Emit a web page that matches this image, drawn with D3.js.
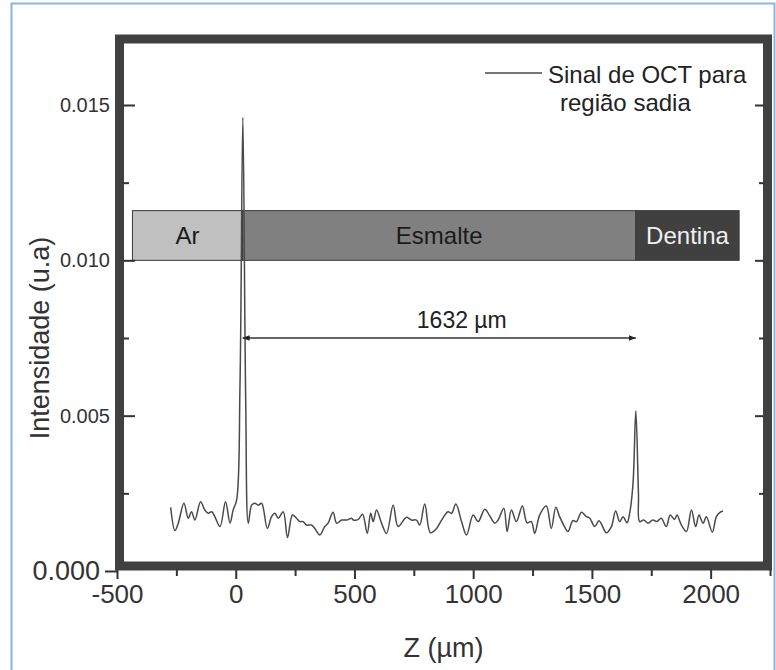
<!DOCTYPE html>
<html>
<head>
<meta charset="utf-8">
<script src="https://cdn.jsdelivr.net/npm/d3@7"></script>
<style>
  body { margin: 0; background: #fff; }
  svg { display: block; font-family: "Liberation Sans", Arial, sans-serif; }
</style>
</head>
<body>
<div class="chart"></div>
<script>
// perfil A-scan do OCT (região sadia)
const zPos = [-274, -256, -242, -218, -200, -186, -172, -148, -130, -116, -101, -88, -66, -43, -24, -11, 4, 18, 30, 42, 53,
  67, 81, 95, 109, 133, 151, 165, 179, 200, 218, 239, 256, 270, 284, 298, 319, 333, 354, 375, 389, 410, 425, 446, 467, 488,
  495, 516, 534, 554, 568, 579, 593, 614, 635, 663, 684, 719, 740, 761, 775, 796, 820, 846, 867, 894, 909, 927, 951, 972,
  1000, 1021, 1049, 1070, 1091, 1105, 1129, 1143, 1161, 1182, 1207, 1227, 1245, 1259, 1280, 1308, 1329, 1348, 1364, 1381,
  1399, 1420, 1435, 1456, 1477, 1491, 1512, 1530, 1561, 1582, 1600, 1617, 1631, 1648, 1659, 1673, 1685, 1696, 1701, 1718,
  1736, 1757, 1774, 1792, 1813, 1830, 1848, 1858, 1877, 1898, 1919, 1937, 1951, 1968, 1982, 2007, 2024, 2038, 2052]
const signal = [0.00205, 0.00130, 0.00154, 0.00218, 0.00170, 0.00191, 0.00164, 0.00223, 0.00196, 0.00186, 0.00191, 0.00175,
  0.00143, 0.00223, 0.00154, 0.00196, 0.00229, 0.0060, 0.0146, 0.0055, 0.00154,
  0.00212, 0.00218, 0.00212, 0.00218, 0.00137, 0.00175, 0.00186, 0.00170, 0.00191, 0.00108, 0.00180, 0.00170, 0.00159,
  0.00159, 0.00148, 0.00148, 0.00137, 0.00116, 0.00143, 0.00154, 0.00189, 0.00154, 0.00164, 0.00164, 0.00170,
  0.00164, 0.00166, 0.00183, 0.00121, 0.00186, 0.00159, 0.00196, 0.00154, 0.00121, 0.00212, 0.00143, 0.00173, 0.00164,
  0.00164, 0.00148, 0.00216, 0.00123, 0.00137, 0.00164, 0.00191, 0.00186, 0.00216, 0.00159, 0.00116,
  0.00180, 0.00159, 0.00199, 0.00177, 0.00154, 0.00164, 0.00202, 0.00127, 0.00196, 0.00159, 0.00209, 0.00155, 0.00159,
  0.00121, 0.00180, 0.00209, 0.00137, 0.00205, 0.00175, 0.00148,
  0.00127, 0.00162, 0.00159, 0.00189, 0.00175, 0.00170, 0.00143, 0.00162, 0.00123, 0.00143, 0.00193, 0.00159, 0.00175,
  0.00155, 0.00186, 0.0028, 0.00516, 0.0025, 0.00159, 0.00164,
  0.00154, 0.00164, 0.00159, 0.00170, 0.00143, 0.00180, 0.00166, 0.00180, 0.00148, 0.00127, 0.00196, 0.00143, 0.00180,
  0.00154, 0.00175, 0.00125, 0.00175, 0.00188, 0.00193]

// faixas de meio (ar / esmalte / dentina)
const bandNames = ['Ar', 'Esmalte', 'Dentina']
const bandStart = [-435, 29, 1685]
const bandEnd = [29, 1685, 2120]
const bandColors = ['#c0c0c0', '#808080', '#404040']
const bandText = ['#1a1a1a', '#1a1a1a', '#f0f0f0']

const xTicks = [-500, 0, 500, 1000, 1500, 2000]
const xMinor = [-250, 250, 750, 1250, 1750, 2250]
const yTicks = [0.005, 0.010, 0.015]
const yMinor = [0.0025, 0.0075, 0.0125]

const W = 776, H = 670

const svg = d3.select('.chart')
  .append('svg')
  .attr('width', W)
  .attr('height', H)

// moldura azul externa
svg.append('rect')
  .attr('x', 11.5).attr('y', 3.5)
  .attr('width', W - 13).attr('height', H)
  .attr('fill', 'none')
  .attr('stroke', '#8db3e2')
  .attr('stroke-width', 2)

const x = d3.scaleLinear().domain([-500, 2250]).range([117, 770])
const y = d3.scaleLinear().domain([0, 0.015]).range([571, 105])

const frameTop = 39
const frameBottom = 566

// faixas
const bands = svg.selectAll('g.band')
  .data(bandNames)
  .enter()
  .append('g')
  .attr('class', 'band')

bands.append('rect')
  .attr('x', (d, i) => x(bandStart[i]))
  .attr('y', y(0.0116))
  .attr('width', (d, i) => x(bandEnd[i]) - x(bandStart[i]))
  .attr('height', y(0.010) - y(0.0116))
  .attr('fill', (d, i) => bandColors[i])
  .attr('stroke', '#3a3a3a')
  .attr('stroke-width', 1)

bands.append('text')
  .attr('x', (d, i) => (x(bandStart[i]) + x(bandEnd[i])) / 2)
  .attr('y', (y(0.0116) + y(0.010)) / 2)
  .attr('dy', '0.36em')
  .attr('text-anchor', 'middle')
  .attr('font-size', '24px')
  .attr('fill', (d, i) => bandText[i])
  .text(d => d)

// sinal
const line = d3.line()
  .x((d, i) => x(zPos[i]))
  .y(d => y(d))
  .curve(d3.curveCatmullRom)

svg.append('path')
  .datum(signal)
  .attr('fill', 'none')
  .attr('stroke', '#4a4a4a')
  .attr('stroke-width', 1.5)
  .attr('d', line)

// seta de distância 1632 um
const defs = svg.append('defs')
defs.append('marker')
  .attr('id', 'arrow')
  .attr('viewBox', '0 0 10 10')
  .attr('refX', 10).attr('refY', 5)
  .attr('markerWidth', 7).attr('markerHeight', 7)
  .attr('markerUnits', 'userSpaceOnUse')
  .attr('orient', 'auto-start-reverse')
  .append('path')
  .attr('d', 'M0,1 L10,5 L0,9 Z')
  .attr('fill', '#222')

svg.append('line')
  .attr('x1', x(bandStart[1])).attr('x2', x(bandStart[2]))
  .attr('y1', y(0.0075)).attr('y2', y(0.0075))
  .attr('stroke', '#333')
  .attr('stroke-width', 1.4)
  .attr('marker-start', 'url(#arrow)')
  .attr('marker-end', 'url(#arrow)')

svg.append('text')
  .attr('x', x(952))
  .attr('y', 328)
  .attr('text-anchor', 'middle')
  .attr('font-size', '23px')
  .attr('fill', '#222')
  .text('1632 \u00b5m')

// moldura grossa do gráfico
svg.append('rect')
  .attr('x', x(-500) + 2.5)
  .attr('y', frameTop)
  .attr('width', x(2250) - x(-500) - 5)
  .attr('height', frameBottom - frameTop)
  .attr('fill', 'none')
  .attr('stroke', '#404040')
  .attr('stroke-width', 9)

// hífen normal no lugar do sinal de menos
const fmtX = d => String(d)

// eixo x (ticks para fora)
const gx = svg.append('g')
  .attr('transform', `translate(0, ${frameBottom + 4})`)
  .call(d3.axisBottom(x).tickValues(xTicks).tickSize(9).tickPadding(6).tickFormat(fmtX))
svg.append('g')
  .attr('transform', `translate(0, ${frameBottom + 4})`)
  .call(d3.axisBottom(x).tickValues(xMinor).tickSize(6).tickFormat(''))

// eixo y esquerdo (ticks para dentro)
const gy = svg.append('g')
  .attr('transform', `translate(123, 0)`)
  .call(d3.axisLeft(y).tickValues(yTicks).tickSize(-12).tickPadding(13).tickFormat(d3.format('.3f')))
svg.append('g')
  .attr('transform', `translate(123, 0)`)
  .call(d3.axisLeft(y).tickValues(yMinor).tickSize(-6).tickFormat(''))
const gy0 = svg.append('g')
  .attr('transform', `translate(117, 0)`)
  .call(d3.axisLeft(y).tickValues([0]).tickSize(12).tickPadding(5).tickFormat(d3.format('.3f')))

// eixo y direito (só ticks)
svg.append('g')
  .attr('transform', `translate(764, 0)`)
  .call(d3.axisLeft(y).tickValues(yTicks).tickSize(9).tickFormat(''))
svg.append('g')
  .attr('transform', `translate(764, 0)`)
  .call(d3.axisLeft(y).tickValues(yMinor).tickSize(5).tickFormat(''))

svg.selectAll('.domain').remove()
svg.selectAll('.tick line').attr('stroke', '#333').attr('stroke-width', 2)
svg.selectAll('.tick text').attr('fill', '#333').attr('font-family', null)
gx.selectAll('text').attr('font-size', '26px')
gy.selectAll('text').attr('font-size', '20px')
gy0.selectAll('text').attr('font-size', '27px')

// títulos dos eixos
svg.append('text')
  .attr('x', (x(-500) + x(2250)) / 2)
  .attr('y', 657)
  .attr('text-anchor', 'middle')
  .attr('font-size', '27px')
  .attr('fill', '#333')
  .text('Z (\u00b5m)')

svg.append('text')
  .attr('transform', 'translate(49, 338) rotate(-90)')
  .attr('text-anchor', 'middle')
  .attr('font-size', '27px')
  .attr('fill', '#333')
  .text('Intensidade (u.a)')

// legenda
svg.append('line')
  .attr('x1', 485).attr('x2', 542)
  .attr('y1', 73).attr('y2', 73)
  .attr('stroke', '#4a4a4a')
  .attr('stroke-width', 1.4)

const leg = svg.append('text')
  .attr('font-size', '24px')
  .attr('fill', '#222')
leg.append('tspan').attr('x', 548).attr('y', 83).text('Sinal de OCT para')
leg.append('tspan').attr('x', 560).attr('y', 111).text('região sadia')
</script>
</body>
</html>
